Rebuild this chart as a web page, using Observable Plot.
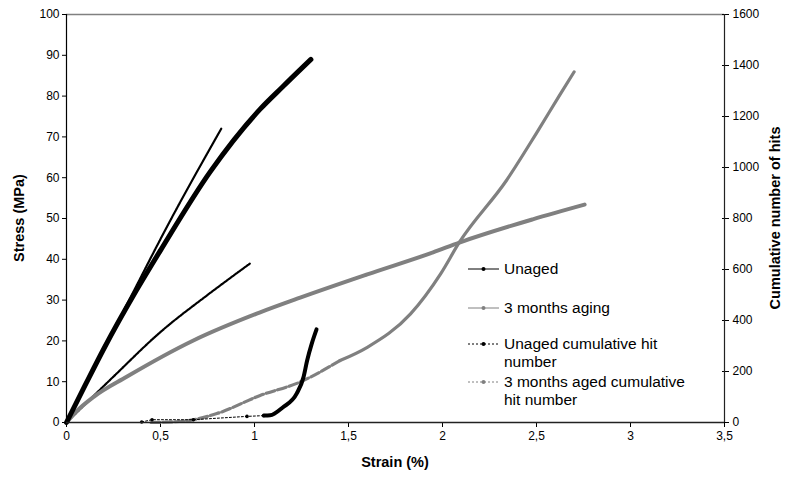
<!DOCTYPE html>
<html>
<head>
<meta charset="utf-8">
<script src="https://cdn.jsdelivr.net/npm/d3@7"></script>
<script src="https://cdn.jsdelivr.net/npm/@observablehq/plot@0.6"></script>
<style>
  html, body { margin: 0; padding: 0; background: #fff; }
  #wrap { position: relative; width: 790px; height: 481px; font-family: "Liberation Sans", Arial, sans-serif; }
  #legend { position: absolute; left: 466px; top: 0; font-size: 15.5px; color: #000; }
  .item { position: absolute; left: 0; white-space: nowrap; line-height: 18px; }
  .item svg { position: absolute; left: 0; top: 4px; }
  .item span { position: absolute; left: 38px; top: 0; }
</style>
</head>
<body>
<div id="wrap"></div>
<script>
// ---- data ----
const xTicks = [0, 0.5, 1, 1.5, 2, 2.5, 3, 3.5];
const yTicks = [0, 10, 20, 30, 40, 50, 60, 70, 80, 90, 100];
const hitTicks = [0, 200, 400, 600, 800, 1000, 1200, 1400, 1600];
const hitsPerMPa = 16; // right axis 0..1600 vs left axis 0..100

// Unaged stress (MPa) vs strain (%)
const unagedStrain = [0, 0.1, 0.2, 0.372, 0.5, 0.765, 1.03, 1.15, 1.3];
const unagedStress = [0, 9.2, 18.2, 32.4, 42.2, 61.5, 76.8, 82.3, 89];

// 3 months aging stress (MPa)
const agedStrain = [0, 0.05, 0.145, 0.32, 0.675, 1.03, 1.243, 1.6, 1.95, 2.09, 2.48, 2.756];
const agedStress = [0, 2.6, 6.3, 11.2, 20.1, 27, 30.6, 36.3, 41.7, 44.1, 49.8, 53.4];

// Unaged cumulative hit number
const unagedHitStrain = [0.4, 0.455, 0.675, 0.96, 1.05, 1.083, 1.15, 1.225, 1.26, 1.28, 1.305, 1.33];
const unagedHits = [2, 11, 11, 24, 27, 28, 59, 114, 176, 243, 310, 365];

// 3 months aged cumulative hit number
const agedHitStrain = [0.45, 0.62, 0.8, 1.03, 1.24, 1.455, 1.6, 1.83, 1.99, 2.09, 2.34, 2.5, 2.62, 2.7];
const agedHits = [0, 5, 35, 106, 158, 243, 295, 426, 583, 707, 949, 1135, 1280, 1375];

// straight dotted hit-number traces starting at the origin
const rampAStrain = [0, 0.3, 0.552, 0.823];
const rampAHits = [0, 432, 792, 1152];
const rampBStrain = [0, 0.25, 0.5, 0.75, 0.977];
const rampBHits = [0, 180, 355, 500, 624];

const legendLabels = ["Unaged", "3 months aging", "Unaged cumulative hit<br>number", "3 months aged cumulative<br>hit number"];
const axisTitles = {left: "Stress (MPa)", right: "Cumulative number of hits", bottom: "Strain (%)"};

// ---- build tables ----
const pts = (xs, ys, k = 1) => xs.map((x, i) => ({x, y: ys[i] / k}));
const uS = pts(unagedStrain, unagedStress);
const aS = pts(agedStrain, agedStress);
const uH = pts(unagedHitStrain, unagedHits, hitsPerMPa);
const aH = pts(agedHitStrain, agedHits, hitsPerMPa);
const rA = pts(rampAStrain, rampAHits, hitsPerMPa);
const rB = pts(rampBStrain, rampBHits, hitsPerMPa);

const BLACK = "#000", GREY = "#808080";
const fmt = d => String(d).replace(".", ",");
const C = "monotone-x";

const chart = Plot.plot({
  width: 790, height: 481,
  marginLeft: 66, marginRight: 66, marginTop: 14, marginBottom: 59,
  style: {fontFamily: "'Liberation Sans', Arial, sans-serif", fontSize: "12px", color: "#000", background: "#fff"},
  x: {domain: [0, 3.5]},
  y: {domain: [0, 100]},
  marks: [
    Plot.ruleY([100], {stroke: GREY, strokeWidth: 1.5}),
    Plot.axisX({ticks: xTicks, tickFormat: fmt, tickSize: 5, tickPadding: 4, label: null}),
    Plot.axisY({ticks: yTicks, tickSize: 4, tickPadding: 3, label: null}),
    Plot.axisY({anchor: "right", ticks: hitTicks.map(h => h / hitsPerMPa), tickFormat: d => String(Math.round(d * hitsPerMPa)), tickSize: 4, tickPadding: 4, label: null}),
    Plot.axisY({anchor: "right", ticks: hitTicks.map(h => h / hitsPerMPa), tickFormat: () => "", tickSize: -3, label: null}),
    // traces
    Plot.line(rA, {x: "x", y: "y", stroke: BLACK, strokeWidth: 2.2, strokeDasharray: "1.5,0.8", curve: C}),
    Plot.line(rB, {x: "x", y: "y", stroke: BLACK, strokeWidth: 2.2, strokeDasharray: "1.5,0.8", curve: C}),
    Plot.line(aS, {x: "x", y: "y", stroke: GREY, strokeWidth: 4, curve: C}),
    Plot.line(aH.filter(d => d.x <= 1.455), {x: "x", y: "y", stroke: GREY, strokeWidth: 3.2, strokeDasharray: "9,3", curve: C}),
    Plot.line(aH.filter(d => d.x >= 1.455), {x: "x", y: "y", stroke: GREY, strokeWidth: 3.2, curve: C}),
    Plot.line(uH.filter(d => d.x <= 1.083), {x: "x", y: "y", stroke: BLACK, strokeWidth: 1, strokeDasharray: "2,2"}),
    Plot.dot(uH.filter(d => d.x < 1.08), {x: "x", y: "y", r: 1.8, fill: BLACK, stroke: null}),
    Plot.line(uH.filter(d => d.x >= 1.05), {x: "x", y: "y", stroke: BLACK, strokeWidth: 4, curve: C}),
    Plot.line(uS, {x: "x", y: "y", stroke: BLACK, strokeWidth: 5, curve: C}),
    // axis lines
    Plot.ruleX([0], {stroke: BLACK, strokeWidth: 1.2}),
    Plot.ruleX([3.5], {stroke: "#222", strokeWidth: 1.2}),
    Plot.ruleY([0], {stroke: "#222", strokeWidth: 1.5})
  ]
});

// axis titles (bold), centred on the frame
const svg = d3.select(chart);
const tStyle = s => s.attr("font-weight", "bold").attr("font-size", 14.5).attr("text-anchor", "middle")
  .attr("font-family", "'Liberation Sans', Arial, sans-serif").attr("fill", "#000");
svg.append("text").call(tStyle).attr("transform", "translate(24,218) rotate(-90)").text(axisTitles.left);
svg.append("text").call(tStyle).attr("transform", "translate(780,218) rotate(-90)").text(axisTitles.right);
svg.append("text").call(tStyle).attr("x", 395).attr("y", 467).text(axisTitles.bottom);

const wrap = document.getElementById("wrap");
wrap.appendChild(chart);

// legend overlay
const legendStyles = [
  {stroke: BLACK, dash: null},
  {stroke: GREY, dash: null},
  {stroke: BLACK, dash: "2,2"},
  {stroke: GREY, dash: "2,2"}
];
const legendTops = [260, 299, 335, 373];
const leg = document.createElement("div");
leg.id = "legend";
legendLabels.forEach((lab, i) => {
  const s = legendStyles[i];
  const it = document.createElement("div");
  it.className = "item";
  it.style.top = legendTops[i] + "px";
  it.innerHTML = `<svg width="36" height="10"><line x1="2" x2="33" y1="5" y2="5" stroke="${s.stroke}" stroke-width="1" ${s.dash ? `stroke-dasharray="${s.dash}"` : ""}/><circle cx="17.5" cy="5" r="2" fill="${s.stroke}"/></svg><span>${lab}</span>`;
  leg.appendChild(it);
});
wrap.appendChild(leg);
</script>
</body>
</html>
